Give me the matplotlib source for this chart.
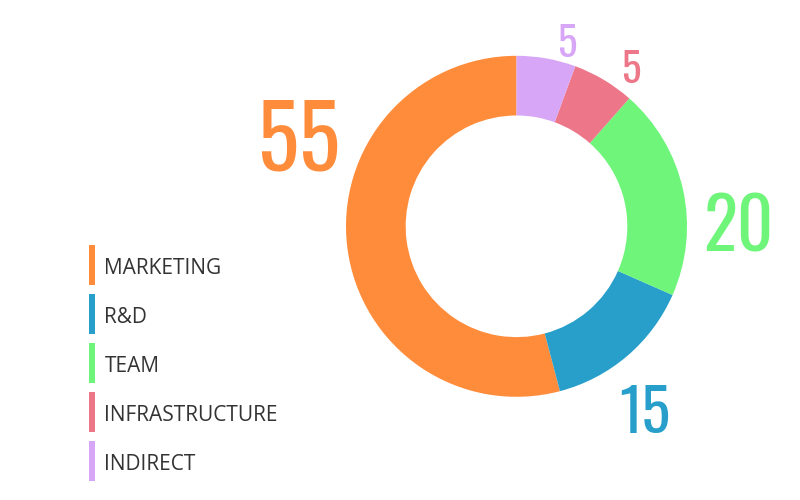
import matplotlib
matplotlib.use("Agg")
import matplotlib.pyplot as plt
from matplotlib.patches import Patch, Rectangle
from matplotlib.legend_handler import HandlerPatch
import numpy as np

categories = ["MARKETING", "R&D", "TEAM", "INFRASTRUCTURE", "INDIRECT"]
values = [54.1, 14.3, 20.1, 5.9, 5.6]
labels = ["55", "15", "20", "5", "5"]
colors = ["#FF8C3B", "#279FCA", "#6EF57A", "#ED7689", "#D7A6F6"]

# label placement (style): baseline anchor as angle (deg) / radius (x outer radius), font size
label_angles = [165.5, 301.9, 353.4, 51.4, 73.4]
label_radii = [1.318, 1.4275, 1.308, 1.076, 1.036]
label_sizes = [62, 43, 51, 29.5, 29.5]

W, H = 800, 500
fig = plt.figure(figsize=(W / 100, H / 100), dpi=100)
cx, cy, R = 516.5, 226.3, 170.5
ax = fig.add_axes([(cx - R) / W, (H - cy - R) / H, 2 * R / W, 2 * R / H])
wedges, _ = ax.pie(values, colors=colors, startangle=90, counterclock=True,
                   radius=1.0, wedgeprops=dict(width=0.35, linewidth=0))
ax.set_xlim(-1, 1)
ax.set_ylim(-1, 1)
ax.set_aspect("equal")
ax.axis("off")

num_font = ["Oswald", "DejaVu Sans"]
for lab, c, a, r, s in zip(labels, colors, label_angles, label_radii, label_sizes):
    t = np.deg2rad(a)
    ax.text(r * np.cos(t), r * np.sin(t), lab, color=c, fontsize=s,
            family=num_font, ha="center", va="baseline", clip_on=False)

fs = 15
px_per_pt = 100 / 72
shift_pt = 2.5 / px_per_pt


def bar_patch(legend, orig_handle, xdescent, ydescent, width, height, fontsize):
    return Rectangle((-xdescent, -ydescent + shift_pt), width, height)


handles = [Patch(facecolor=c, edgecolor="none") for c in colors]
leg = fig.legend(handles, categories, loc="upper left",
                 bbox_to_anchor=(88.5 / W, 1 - 247.5 / H), frameon=False,
                 borderpad=0, borderaxespad=0,
                 handlelength=6 / (fs * px_per_pt),
                 handleheight=2.577,
                 handletextpad=10 / (fs * px_per_pt),
                 labelspacing=9 / (fs * px_per_pt),
                 handler_map={Patch: HandlerPatch(patch_func=bar_patch)},
                 prop=dict(family=["Open Sans", "DejaVu Sans"], size=fs))
for t in leg.get_texts():
    t.set_color("#333333")

fig.savefig("out.png", dpi=100, facecolor="white")
